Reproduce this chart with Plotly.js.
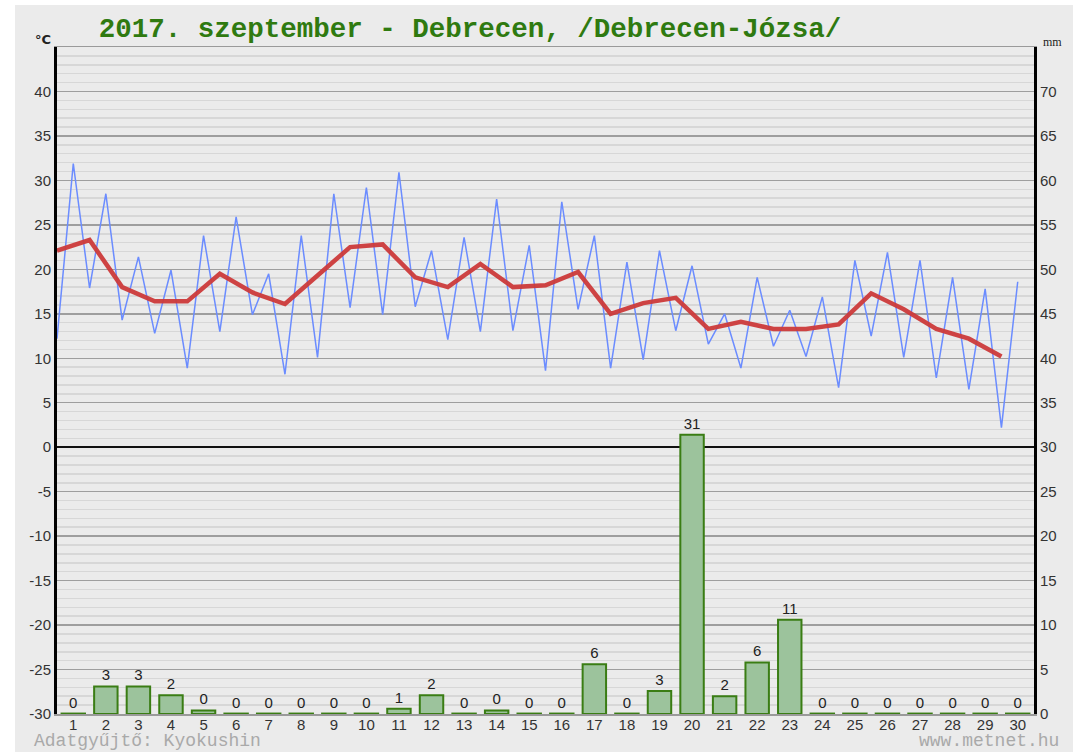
<!DOCTYPE html>
<html>
<head>
<meta charset="utf-8">
<script src="https://cdn.plot.ly/plotly-3.0.1.min.js"></script>
<style>html,body{margin:0;padding:0;background:#fff;}#chart{width:1075px;height:752px;}</style>
</head>
<body>
<div id="chart"></div>
<script>
const days = [1,2,3,4,5,6,7,8,9,10,11,12,13,14,15,16,17,18,19,20,21,22,23,24,25,26,27,28,29,30];
const tMin = [12.2,17.9,14.3,12.8,8.9,13.0,14.9,8.2,10.1,15.7,14.9,15.8,12.1,13.0,13.1,8.6,15.5,8.9,9.85,13.1,11.6,8.9,11.35,10.2,6.7,12.5,10.1,7.8,6.5,2.2];
const tMax = [31.9,28.5,21.4,19.9,23.8,25.9,19.5,23.8,28.5,29.2,30.9,22.1,23.6,27.9,22.7,27.6,23.8,20.8,22.1,20.4,15.0,19.1,15.4,16.9,21.0,21.9,21.0,19.1,17.8,18.6];
const tMean = [22.1,23.3,18.0,16.4,16.4,19.5,17.4,16.1,19.3,22.5,22.8,19.1,18.0,20.6,18.0,18.2,19.7,15.0,16.2,16.8,13.3,14.1,13.3,13.3,13.8,17.3,15.5,13.3,12.2,10.2];
const precip = [0,3.1,3.1,2.1,0.4,0,0,0,0,0,0.6,2.1,0,0.4,0,0,5.6,0,2.6,31.4,2.0,5.8,10.6,0,0,0,0,0,0,0];
const tempTicks = [-30,-25,-20,-15,-10,-5,0,5,10,15,20,25,30,35,40];
const mmTicks = [0,5,10,15,20,25,30,35,40,45,50,55,60,65,70];

// blue zigzag: min at start of day, max at middle of day
const zx = [], zy = [];
days.forEach((d,i) => { zx.push(d-1, d-0.5); zy.push(tMin[i], tMax[i]); });

const traces = [
  {
    type: 'bar', x: days.map(d => d-0.5), y: precip.map(v => Math.max(v, 0.05)),
    yaxis: 'y2', width: 0.72,
    marker: {color: '#9cc39c', line: {color: '#3a7d14', width: 2}},
    text: precip.map(v => String(Math.round(v))), textposition: 'outside', cliponaxis: false,
    textfont: {family: 'Liberation Sans, Arial, sans-serif', size: 15, color: '#222'},
    hoverinfo: 'skip'
  },
  {
    type: 'scatter', mode: 'lines', x: zx, y: zy,
    line: {color: '#6b8cff', width: 1.5}, hoverinfo: 'skip'
  },
  {
    type: 'scatter', mode: 'lines', x: days.map(d => d-1), y: tMean,
    line: {color: '#cc3a3a', width: 4.5}, opacity: 0.95, hoverinfo: 'skip'
  }
];

const tickFont = {family: 'Liberation Sans, Arial, sans-serif', size: 15, color: '#333'};
const L = 57, R = 1034, T = 47, B = 714, W = 1075, H = 752;
const px = x => (x - L) / (R - L);
const py = y => (B - y) / (B - T);

const layout = {
  width: W, height: H,
  margin: {l: L, r: W - R, t: T, b: H - B, pad: 0},
  paper_bgcolor: '#ffffff', plot_bgcolor: '#ebebeb',
  showlegend: false,
  bargap: 0,
  title: {
    text: '2017. szeptember - Debrecen, /Debrecen-Józsa/',
    font: {family: 'Liberation Mono, Courier New, monospace', size: 27.5, color: '#2f7a10', weight: 'bold'},
    x: 470 / W, xref: 'container', xanchor: 'center',
    y: 1 - 27 / H, yref: 'container', yanchor: 'middle'
  },
  xaxis: {
    range: [0, 30], tickmode: 'array', tickvals: days.map(d => d-0.5), ticktext: days.map(String),
    showgrid: false, zeroline: false, ticks: '', tickfont: tickFont, ticklabelstandoff: -4,
    showline: true, mirror: true, linecolor: '#9a9a9a', linewidth: 1.5, fixedrange: true
  },
  yaxis: {
    range: [-30, 45], tickmode: 'array', tickvals: tempTicks, ticktext: tempTicks.map(String),
    showgrid: true, gridcolor: '#9e9e9e', gridwidth: 1.5,
    minor: {tickmode: 'linear', tick0: -30, dtick: 1, showgrid: true, gridcolor: '#d7d7d7', gridwidth: 1.5, ticks: ''},
    zeroline: true, zerolinecolor: '#111', zerolinewidth: 2,
    showline: true, linecolor: '#000', linewidth: 3,
    ticks: '', tickfont: tickFont, fixedrange: true
  },
  yaxis2: {
    range: [0, 75], overlaying: 'y', side: 'right', tickmode: 'array', tickvals: mmTicks, ticktext: mmTicks.map(String),
    showgrid: false, zeroline: false, showline: true, linecolor: '#000', linewidth: 3,
    ticks: '', tickfont: tickFont, fixedrange: true
  },
  shapes: [
    {type: 'rect', xref: 'paper', yref: 'paper', layer: 'below',
     x0: px(15), x1: px(1073), y0: py(752), y1: py(5),
     fillcolor: '#ebebeb', line: {width: 0}}
  ],
  annotations: [
    {text: '°C', xref: 'paper', yref: 'paper', x: px(53), y: py(40), xanchor: 'right', yanchor: 'middle', showarrow: false,
     font: {family: 'DejaVu Sans, sans-serif', size: 13, color: '#222', weight: 'bold'}},
    {text: 'mm', xref: 'paper', yref: 'paper', x: px(1041), y: py(42), xanchor: 'left', yanchor: 'middle', showarrow: false,
     font: {family: 'Liberation Serif, serif', size: 12, color: '#222'}},
    {text: 'Adatgyűjtő: Kyokushin', xref: 'paper', yref: 'paper', x: px(32), y: py(741), xanchor: 'left', yanchor: 'middle', showarrow: false,
     font: {family: 'Liberation Mono, Courier New, monospace', size: 18, color: '#a9a9a9'}},
    {text: 'www.metnet.hu', xref: 'paper', yref: 'paper', x: px(1061), y: py(741), xanchor: 'right', yanchor: 'middle', showarrow: false,
     font: {family: 'Liberation Mono, Courier New, monospace', size: 18, color: '#a9a9a9'}}
  ]
};

Plotly.newPlot('chart', traces, layout, {displayModeBar: false, staticPlot: true});
</script>
</body>
</html>
